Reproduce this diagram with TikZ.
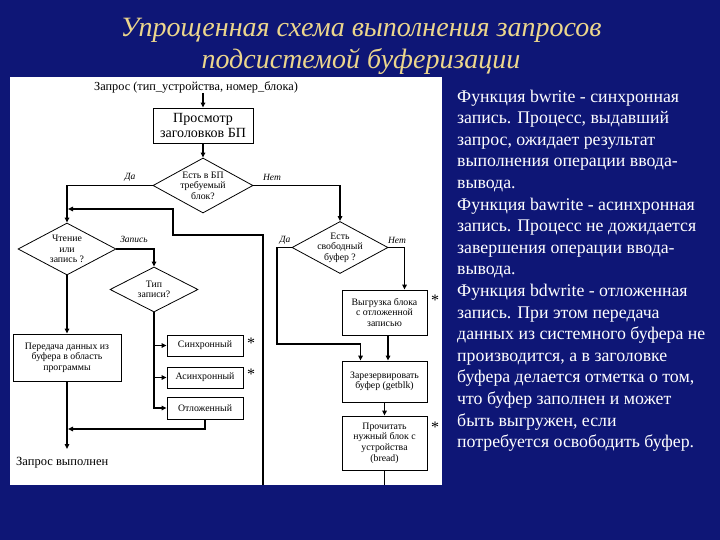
\documentclass[tikz,border=0pt]{standalone}
\usepackage{fontspec}
\setmainfont{Liberation Serif}
\usetikzlibrary{shapes.geometric,arrows.meta,calc}
\definecolor{bg}{RGB}{14,22,118}
\definecolor{titlec}{RGB}{236,214,140}
\begin{document}
\begin{tikzpicture}[x=1pt,y=-1pt,
  box/.style={draw=black,line width=0.8pt,fill=white,inner sep=0pt,align=center,font=\fontsize{9.8}{10.6}\selectfont},
  dia/.style={draw=black,line width=0.8pt,diamond,inner sep=0pt},
  lab/.style={inner sep=0pt,align=center,font=\fontsize{9.8}{10.6}\selectfont},
  yn/.style={inner sep=0pt,font=\itshape\fontsize{9.5}{10}\selectfont},
  con/.style={line width=1.6pt,draw=black},
  arr/.style={con,-{Triangle[length=5pt,width=4.5pt]}},
  star/.style={inner sep=0pt,font=\fontsize{16}{16}\selectfont},
  ttl/.style={inner sep=0pt,text=titlec,font=\itshape\fontsize{28}{32}\selectfont}]
\useasboundingbox (0,0) rectangle (720,540);
\fill[bg] (0,0) rectangle (720,540);
% title
\node[ttl] (t1) at (361,30) {Упрощенная схема выполнения запросов};
\node[ttl] (t2) at (361,62) {подсистемой буферизации};
% panel
\fill[white] (10,77) rectangle (442,485);
% flowchart
\node[inner sep=0pt,font=\fontsize{12.3}{13}\selectfont] (req) at (196,87) {Запрос (тип\_устройства, номер\_блока)};
\node[box,minimum width=100pt,minimum height=35pt,font=\fontsize{14}{15}\selectfont] (view) at (203,125.5) {Просмотр\\заголовков БП};
\node[dia,minimum width=100pt,minimum height=55pt] (d1) at (203,185.5) {};
\node[lab] (d1t) at (d1) {Есть в БП\\требуемый\\блок?};
\node[dia,minimum width=96pt,minimum height=52pt] (d2) at (340,247.5) {};
\node[lab] (d2t) at (d2) {Есть\\свободный\\буфер ?};
\node[dia,minimum width=98pt,minimum height=52pt] (d3) at (67,249) {};
\node[lab] (d3t) at (d3) {Чтение\\или\\запись ?};
\node[dia,minimum width=88pt,minimum height=45pt] (d4) at (154,289.5) {};
\node[lab] (d4t) at (d4) {Тип\\записи?};
\node[box,minimum width=108pt,minimum height=47pt] (out) at (67,357.5) {Передача данных из\\буфера в область\\программы};
\node[box,minimum width=76pt,minimum height=21pt] (sync) at (205,345.5) {Синхронный};
\node[box,minimum width=76pt,minimum height=21pt] (async) at (205,377.5) {Асинхронный};
\node[box,minimum width=76pt,minimum height=22pt] (defer) at (205,408) {Отложенный};
\node[box,minimum width=85pt,minimum height=45pt] (unload) at (384.5,312.5) {Выгрузка блока\\с отложенной\\записью};
\node[box,minimum width=85pt,minimum height=41pt] (reserve) at (384.5,381.5) {Зарезервировать\\буфер (getblk)};
\node[box,minimum width=85pt,minimum height=54pt] (read) at (384.5,443) {Прочитать\\нужный блок с\\устройства\\(bread)};
\node[inner sep=0pt,anchor=west,font=\fontsize{12.5}{14}\selectfont] (done) at (16,463) {Запрос выполнен};
% stars
\node[star] (s1) at (251,343) {*};
\node[star] (s2) at (251,374) {*};
\node[star] (s3) at (435,300) {*};
\node[star] (s4) at (435,427) {*};
% yes/no labels
\node[yn] (y1) at (130,177) {Да};
\node[yn] (n1) at (272,177) {Нет};
\node[yn] (w1) at (134,239) {Запись};
\node[yn] (y2) at (285,240) {Да};
\node[yn] (n2) at (397,240) {Нет};
% coordinates
\coordinate (lb) at (263,485);
\coordinate (l1) at (263,235);
\coordinate (l2) at (173,235);
\coordinate (l3) at (173,209);
\coordinate (l4) at (68,209);
\coordinate (rb) at (384.5,485);
\coordinate (c1) at (277,344);
\coordinate (j1) at (68,429);
\coordinate (dt) at (67,449);
% connectors
\draw[arr] (req.south -| view.north) -- (view.north);
\draw[arr] (view.south) -- (d1.north);
\draw[arr] (d1.west) -| (d3.north);
\draw[arr] (d1.east) -| (d2.north);
\draw[con] (read.south) -- (rb);
\draw[arr] (lb) -- (l1) -- (l2) -- (l3) -- (l4);
\draw[arr] (d3.east) -| (d4.north);
\draw[arr] (d3.south) -- (out.north);
\draw[arr] (d4.south) |- (defer.west);
\draw[arr] (d4.south |- sync.west) -- (sync.west);
\draw[arr] (d4.south |- async.west) -- (async.west);
\draw[arr] (defer.south) |- (j1);
\draw[arr] (out.south) -- (dt);
\draw[arr] (d2.west) -| (c1) -| ([xshift=-24pt]reserve.north);
\draw[arr] (d2.east) -| ([xshift=20pt]unload.north);
\draw[arr] ([xshift=3.5pt]unload.south) -- ([xshift=3.5pt]reserve.north);
\draw[arr] (reserve.south) -- (read.north);
% right text
\node[anchor=north west,inner sep=0pt,align=left,text=white,font=\fontsize{17.8}{21.6}\selectfont] (txt) at (457,89.5) {Функция bwrite - синхронная\\запись. Процесс, выдавший\\запрос, ожидает результат\\выполнения операции ввода-\\вывода.\\Функция bawrite - асинхронная\\запись. Процесс не дожидается\\завершения операции ввода-\\вывода.\\Функция bdwrite - отложенная\\запись. При этом передача\\данных из системного буфера не\\производится, а в заголовке\\буфера делается отметка о том,\\что буфер заполнен и может\\быть выгружен, если\\потребуется освободить буфер.};
\end{tikzpicture}
\end{document}
